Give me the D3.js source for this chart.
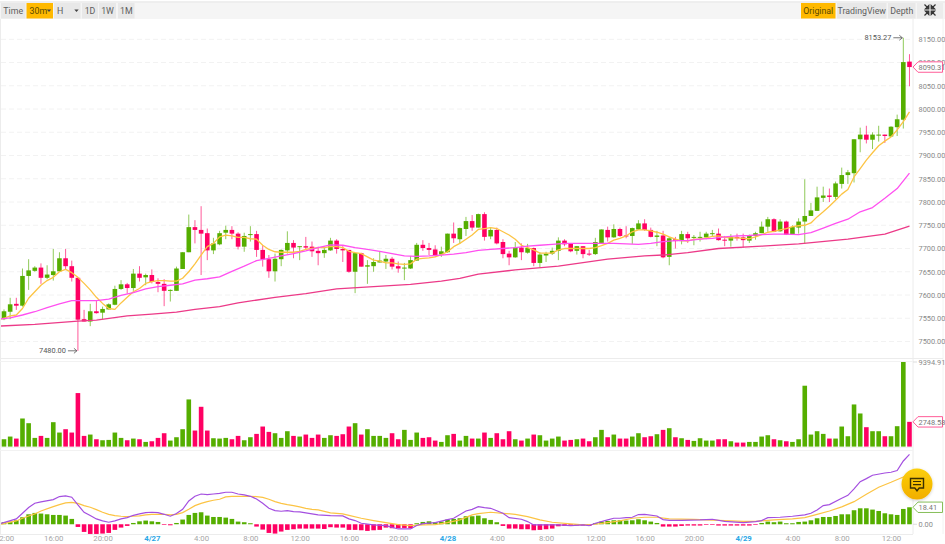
<!DOCTYPE html>
<html>
<head>
<meta charset="utf-8">
<script src="https://cdnjs.cloudflare.com/ajax/libs/d3/7.8.5/d3.min.js"></script>
<style>
  html, body { margin: 0; padding: 0; background: #fff; overflow: hidden; }
  text { font-family: Roboto, "Noto Sans", sans-serif; }
</style>
</head>
<body>
<div id="chart"></div>
<script>
// candles run from index -1 (cut off at the left edge) to 147, 30 minutes each
const opens = [7538,7548,7564,7581,7577,7641,7652,7659,7637,7643,7651,7679,7662,7637,7548,7543,7565,7562,7569,7579,7613,7623,7615,7646,7638,7643,7628,7624,7609,7609,7656,7692,7746,7740,7733,7696,7709,7734,7740,7732,7704,7729,7731,7697,7677,7651,7677,7696,7712,7703,7705,7704,7695,7690,7696,7717,7699,7697,7650,7690,7661,7662,7670,7672,7678,7662,7657,7657,7674,7708,7701,7698,7687,7692,7732,7720,7742,7759,7745,7774,7726,7740,7714,7689,7681,7702,7691,7701,7669,7685,7689,7695,7717,7710,7695,7705,7689,7688,7712,7740,7724,7742,7728,7727,7741,7754,7740,7725,7728,7682,7720,7716,7731,7723,7723,7724,7731,7732,7719,7717,7725,7724,7717,7727,7733,7747,7763,7737,7758,7730,7745,7758,7770,7781,7809,7814,7811,7839,7858,7862,7935,7945,7934,7944,7945,7941,7961,7977,8102];
const highs = [7550,7569,7594,7594,7657,7677,7662,7668,7664,7699,7692,7699,7674,7638,7568,7581,7587,7575,7582,7620,7632,7626,7656,7662,7646,7655,7636,7634,7612,7661,7692,7773,7761,7791,7743,7723,7738,7749,7748,7735,7734,7748,7738,7707,7686,7689,7698,7737,7718,7705,7725,7715,7704,7704,7723,7720,7705,7697,7691,7691,7675,7679,7693,7686,7682,7672,7669,7684,7712,7718,7712,7707,7704,7732,7756,7745,7768,7772,7775,7778,7745,7745,7720,7695,7714,7711,7710,7702,7692,7693,7702,7724,7720,7711,7705,7705,7697,7723,7741,7747,7752,7745,7748,7745,7761,7763,7745,7738,7738,7725,7725,7738,7736,7729,7736,7736,7740,7743,7727,7731,7732,7732,7730,7736,7758,7768,7765,7763,7760,7750,7765,7849,7798,7833,7833,7829,7844,7874,7869,7935,7960,7964,7950,7964,7945,7963,7988,8153.27,8118];
const lows = [7535,7546,7548,7568,7575,7611,7650,7624,7634,7631,7650,7654,7629,7480,7543,7533,7560,7548,7569,7578,7611,7603,7609,7629,7621,7625,7606,7576,7586,7609,7656,7692,7711,7643,7675,7688,7707,7720,7720,7698,7693,7715,7682,7661,7637,7629,7662,7689,7679,7675,7698,7682,7664,7680,7695,7689,7671,7648,7604,7661,7624,7650,7670,7656,7655,7648,7632,7656,7674,7695,7686,7682,7682,7691,7712,7710,7727,7738,7745,7717,7720,7709,7679,7664,7680,7675,7689,7662,7659,7671,7686,7675,7705,7692,7687,7679,7684,7686,7712,7715,7723,7725,7722,7710,7740,7738,7724,7705,7679,7664,7700,7709,7712,7707,7715,7720,7725,7717,7705,7704,7717,7702,7712,7719,7733,7736,7735,7736,7729,7729,7732,7710,7770,7781,7800,7800,7806,7829,7839,7842,7907,7926,7914,7930,7927,7940,7942,7958,8049];
const closes = [7548,7565,7580,7577,7641,7653,7659,7637,7644,7651,7679,7662,7637,7547,7543,7565,7561,7570,7580,7613,7623,7615,7646,7637,7643,7628,7624,7609,7611,7657,7692,7746,7740,7732,7696,7711,7733,7740,7732,7704,7727,7731,7697,7677,7651,7678,7697,7712,7702,7705,7702,7694,7690,7697,7717,7699,7696,7650,7690,7661,7664,7671,7674,7678,7661,7657,7659,7675,7708,7701,7697,7686,7694,7732,7722,7744,7759,7745,7774,7725,7740,7711,7688,7681,7702,7692,7701,7669,7687,7689,7695,7717,7709,7694,7705,7688,7687,7714,7741,7724,7742,7727,7727,7744,7754,7740,7725,7728,7681,7722,7716,7731,7722,7725,7725,7732,7733,7718,7717,7725,7722,7718,7727,7733,7747,7763,7736,7758,7730,7746,7758,7770,7782,7810,7814,7811,7840,7858,7864,7935,7945,7934,7945,7945,7942,7962,7978,8101,8090.31];
const volumes = [669,817,1115,892,3121,2600,966,1189,966,2712,1560,1932,1560,5944,1189,1337,817,706,743,1560,966,706,892,817,520,594,966,1486,669,1040,1932,5238,1783,4421,1783,929,892,966,817,1189,706,1040,1412,2229,1635,1486,966,1709,1189,1115,1337,966,1337,966,1263,1189,1375,2229,2600,1337,1932,1189,1189,966,1486,817,1858,743,1560,966,1040,669,520,1263,1412,669,1189,892,892,1560,966,1486,817,1709,817,669,892,1337,1263,669,892,1115,669,743,817,892,594,1040,1858,1040,1337,892,892,1115,1486,1040,1152,1375,1858,2043,1040,929,743,632,929,669,669,817,817,594,446,446,520,520,1115,1263,817,706,594,520,817,6761,1337,1709,1412,892,892,2229,1152,4681,3678,2155,1709,1709,1152,1152,2266,9394.91,2748.58];
const macdHist = [1.1,2.2,2.9,4.3,7.6,10.8,12.3,11.6,10.8,10.1,10.1,9.4,5.8,-2.9,-8.3,-10.5,-10.5,-10.1,-9.4,-6.1,-3.6,-1.8,1.4,3.2,4,3.2,2.5,-0.7,-1.1,1.4,5.1,10.1,12.3,13,9.4,7.9,7.9,7.2,5.8,2.9,2.2,1.1,-2.5,-5.8,-9.4,-10.1,-7.9,-6.1,-5.4,-4.7,-4.7,-4.7,-4.7,-5.1,-3.2,-3.6,-3.6,-6.1,-6.1,-6.5,-7.2,-6.5,-6.1,-3.6,-4.3,-4.3,-4,-4.3,1.1,2.5,3.2,2.2,2.9,5.1,5.8,6.5,8.7,8.7,9.4,6.5,4.7,2.2,-1.8,-4.7,-4.7,-5.4,-5.4,-6.5,-6.1,-5.4,-4.7,-2.2,-1.8,-1.4,-1.4,-1.4,-1.8,1.1,2.9,3.6,4.3,4.3,4,4.3,5.4,4.3,2.9,1.4,-2.5,-2.5,-2.5,-1.8,-1.4,-1.4,-1.4,-0.7,-0.7,-1.4,-1.4,-1.4,-1.4,-1.4,-1.4,-0.7,1.4,2.9,2.2,2.9,1.1,1.1,2.5,2.9,4.3,6.5,7.9,7.9,9,10.8,10.8,15.2,17.3,17.3,15.9,14.4,11.9,10.8,10.1,16.6,18.41];

// price moving averages
const ma7 = [7547,7550,7555,7557,7571,7593,7607,7621,7631,7638,7650,7655,7648,7638,7625,7611,7595,7582,7571,7569,7583,7595,7607,7614,7625,7629,7631,7631,7630,7630,7636,7650,7667,7686,7704,7711,7725,7729,7727,7724,7724,7721,7720,7707,7698,7693,7692,7692,7692,7694,7698,7700,7702,7702,7704,7704,7702,7694,7691,7689,7682,7675,7673,7669,7669,7667,7666,7667,7677,7679,7680,7682,7687,7693,7704,7711,7720,7729,7741,7743,7745,7743,7736,7729,7720,7707,7702,7697,7690,7690,7690,7697,7700,7700,7700,7700,7700,7702,7706,7711,7718,7722,7727,7736,7740,7740,7738,7735,7731,7725,7720,7717,7716,7720,7720,7723,7726,7727,7724,7723,7723,7722,7721,7725,7730,7735,7737,7740,7743,7747,7749,7750,7755,7768,7779,7791,7804,7817,7827,7854,7872,7890,7906,7921,7931,7940,7955,7973,7994];
// read at every second candle
const ma25 = [7548,7551,7557,7564,7573,7581,7588,7588,7588,7591,7599,7605,7613,7618,7621,7624,7632,7635,7639,7651,7662,7674,7679,7684,7689,7695,7702,7708,7707,7702,7698,7694,7689,7684,7683,7684,7686,7688,7691,7696,7698,7700,7702,7705,7707,7709,7711,7711,7711,7711,7711,7710,7709,7711,7715,7717,7717,7720,7722,7725,7727,7728,7730,7731,7731,7730,7734,7744,7754,7763,7779,7788,7808,7829,7862];
const ma99Index = [-1,5,12,15,20,24,28,31,35,38,44,49,54,60,66,71,74,77,83,90,98,104,107,111,116,123,129,137,143,147];
const ma99 = [7533,7537,7544,7546,7555,7559,7563,7569,7575,7583,7595,7603,7613,7618,7623,7630,7636,7645,7654,7662,7677,7684,7686,7691,7700,7705,7710,7720,7731,7748];

// macd lines, read where they bend
const difIndex = [-1,2,3,4,5,6,8,9,10,11,12,13,14,15,16,17,18,19,20,21,22,23,24,25,26,27,28,29,30,31,32,33,34,35,36,37,38,39,40,41,42,43,44,45,46,47,48,49,50,51,53,55,56,57,58,60,62,64,66,67,68,70,72,73,75,76,77,78,79,81,82,84,85,86,88,90,92,94,95,96,98,99,100,101,102,103,104,106,107,108,110,113,115,117,120,122,123,124,126,128,130,131,132,133,134,136,137,138,139,140,141,143,144,145,146,147];
const dif = [0,5.8,11.9,18.1,22.8,24.2,26.7,30,30.7,29.3,20.9,13,9.4,5.8,3.6,2.2,3.6,5.8,7.2,9.7,11.2,12.6,13,12.6,10.8,8.7,11.6,16.2,25.3,30.3,32.8,32.1,32.8,33.5,34.7,34.7,32.8,31.8,30.3,27.4,22.7,17.3,14.8,14.1,14.8,13.7,13.4,12.3,11.2,10.1,9.4,9,5.8,4,1.1,-0.7,-1.4,-5.1,-5.1,-1.4,0.7,1.8,5.1,6.5,14.4,16.2,19.1,18.1,17.3,11.9,7.2,5.4,2.9,-0.7,-0.7,-0.7,-1.4,-0.7,-1.4,1.1,4.7,6.5,6.5,7.2,7.6,10.5,10.8,9,5.1,4.3,4.3,4.7,5.4,3.2,1.8,2.9,4,7.2,7.6,8.7,10.1,11.9,15.5,20.2,21.3,28.2,31.4,38.3,46.2,49.5,53.1,55.6,56.4,58.2,68.6,75.8];
const deaIndex = [-1,2,3,4,5,6,8,9,10,11,12,13,14,15,16,17,18,19,20,21,22,23,24,26,27,28,29,30,31,32,33,34,35,36,37,40,41,42,43,44,45,46,47,48,49,50,51,53,55,56,58,60,62,64,66,68,70,72,74,76,77,79,81,83,85,87,89,92,94,96,98,100,102,104,106,108,112,117,120,122,125,128,130,132,134,136,138,140,142,144,146,147];
const dea = [-0.7,3.6,6.5,9,11.2,14.4,19.1,21.3,23.1,23.8,22.7,20.2,18.4,15.9,13,10.8,9.4,8.7,8.3,8.7,9,10.1,10.8,10.8,10.1,10.8,12.6,16.2,20.2,22.7,24.5,26,27.1,29.6,30.3,30.3,30,29.2,27.1,24.5,22.7,21.3,20.2,18.8,17.3,16.2,15.5,12.3,11.2,9.7,6.5,4,1.8,-0.4,-1.4,-0.7,-0.4,1.8,4.7,10.1,11.6,13,11.9,10.8,8.3,4.7,2.2,0.4,-0.7,0,1.8,3.6,6.5,7.6,7.6,5.8,5.4,4,3.2,3.2,4.7,5.8,7.2,10.8,14.4,18.8,24.5,32.5,40.1,45.5,51.3,54.9];

const priceTicks = [7500,7550,7600,7650,7700,7750,7800,7850,7900,7950,8000,8050,8100,8150];
const timeTickIndex = [0,8,16,24,32,40,48,56,64,72,80,88,96,104,112,120,128,136,144];
const timeTickLabels = ["12:00","16:00","20:00","4/27","4:00","8:00","12:00","16:00","20:00","4/28","4:00","8:00","12:00","16:00","20:00","4/29","4:00","8:00","12:00"];
const leftButtons = ["Time","30m","H","1D","1W","1M"];
const rightButtons = ["Original","TradingView","Depth"];

const width = 945, height = 544;
const green = "#55ae00", red = "#ff0063";
const plotRight = 913;
const fontStack = 'Roboto, "Noto Sans", sans-serif';
const labelSize = 7.4;

const candleIndex = d3.range(-1, 148);
const ma25Index = d3.range(-1, 148, 2);

const x = d3.scaleLinear().domain([0, 144]).range([4, 891]);
const y = d3.scaleLinear().domain([7500, 8150]).range([341.5, 39.3]);
const yVol = d3.scaleLinear().domain([0, 9394.91]).range([446.6, 362]);
const yMacd = d3.scaleLinear().domain([-11.1, 80.5]).range([534.5, 450]);

const svg = d3.select("#chart").append("svg")
    .attr("width", width).attr("height", height)
    .style("display", "block");

svg.append("defs").append("clipPath").attr("id", "plot")
  .append("rect").attr("x", 1).attr("y", 19).attr("width", plotRight - 1).attr("height", 516);

const grad = svg.select("defs").append("linearGradient").attr("id", "chatFill")
    .attr("x1", 0).attr("y1", 0).attr("x2", 0).attr("y2", 1);
grad.append("stop").attr("offset", "0%").attr("stop-color", "#fccf0a");
grad.append("stop").attr("offset", "100%").attr("stop-color", "#f2ae00");

const shadow = svg.select("defs").append("filter").attr("id", "chatShadow")
    .attr("x", "-30%").attr("y", "-30%").attr("width", "160%").attr("height", "160%");
shadow.append("feDropShadow").attr("dx", 0).attr("dy", 1).attr("stdDeviation", 1.5)
    .attr("flood-color", "#000").attr("flood-opacity", 0.2);

// frame
const frame = svg.append("g").attr("stroke", "#ececec").attr("fill", "none");
frame.append("line").attr("x1", 0).attr("x2", width).attr("y1", 2).attr("y2", 2).attr("stroke", "#dedede");
frame.append("line").attr("x1", 0.5).attr("x2", 0.5).attr("y1", 19).attr("y2", 534);
frame.append("line").attr("x1", plotRight).attr("x2", plotRight).attr("y1", 19).attr("y2", 534);
frame.append("line").attr("x1", 943).attr("x2", 943).attr("y1", 19).attr("y2", 534).attr("stroke", "#f2f2f2");
frame.append("line").attr("x1", 0).attr("x2", 943).attr("y1", 358.5).attr("y2", 358.5).attr("stroke", "#ececec");
frame.append("line").attr("x1", 0).attr("x2", plotRight).attr("y1", 361.5).attr("y2", 361.5).attr("stroke", "#f2f2f2");
frame.append("line").attr("x1", 0).attr("x2", plotRight).attr("y1", 447.5).attr("y2", 447.5).attr("stroke", "#f2f2f2");
frame.append("line").attr("x1", 0).attr("x2", plotRight).attr("y1", 450.5).attr("y2", 450.5).attr("stroke", "#f2f2f2");
frame.append("line").attr("x1", 0).attr("x2", plotRight).attr("y1", 534.5).attr("y2", 534.5).attr("stroke", "#ececec");

// toolbar
const bar = svg.append("g");
bar.append("rect").attr("x", 0).attr("y", 3).attr("width", width).attr("height", 16).attr("fill", "#f5f5f5");

const leftX = [1, 26.5, 54, 82, 99, 118], leftW = [24.5, 26.5, 26.5, 16, 17, 16.5];
leftButtons.forEach((label, i) => {
  bar.append("rect").attr("x", leftX[i]).attr("y", 3).attr("width", leftW[i]).attr("height", 15.5)
      .attr("fill", label == "30m" ? "#ffb900" : "#e8e8e8");
  bar.append("text").attr("x", label == "H" ? 57 : label == "30m" ? 29.5 : leftX[i] + leftW[i] / 2)
      .attr("y", 13.6)
      .attr("text-anchor", label == "H" || label == "30m" ? "start" : "middle")
      .attr("font-size", 8.8)
      .attr("fill", label == "30m" ? "#5a4a00" : "#5e5e5e")
      .text(label);
});
[49, 76.5].forEach(cx => {
  bar.append("path").attr("d", `M${cx - 2.2},9.5h4.4l-2.2,2.5z`).attr("fill", "#444");
});

const rightX = [801, 837, 888], rightW = [34.5, 49.5, 27.5];
rightButtons.forEach((label, i) => {
  bar.append("rect").attr("x", rightX[i]).attr("y", 3).attr("width", rightW[i]).attr("height", 15.5)
      .attr("fill", i == 0 ? "#ffb900" : "#e8e8e8");
  bar.append("text").attr("x", rightX[i] + rightW[i] / 2).attr("y", 13.6)
      .attr("text-anchor", "middle").attr("font-size", 8.8)
      .attr("fill", i == 0 ? "#5a4a00" : "#5e5e5e")
      .text(label);
});
bar.append("rect").attr("x", 917).attr("y", 3).attr("width", 26).attr("height", 15.5).attr("fill", "#ececec");
// fullscreen arrows
bar.append("g").attr("transform", "translate(930,10)").attr("stroke", "#333").attr("stroke-width", 1.2).attr("fill", "#333")
  .selectAll("path").data([0, 90, 180, 270]).join("path")
    .attr("transform", d => `rotate(${d})`)
    .attr("d", "M-5.5,-5.5L-2.5,-2.5M-1.2,-4.6V-1.2H-4.6Z");

// price grid and axis
svg.append("g").selectAll("line").data(priceTicks).join("line")
    .attr("x1", 1).attr("x2", plotRight)
    .attr("y1", d => y(d)).attr("y2", d => y(d))
    .attr("stroke", "#f2f2f2").attr("stroke-dasharray", "5,3");

const priceAxis = svg.append("g").attr("transform", `translate(${plotRight},0)`)
    .call(d3.axisRight(y).tickValues(priceTicks).tickFormat(d3.format(".2f")).tickSize(0).tickPadding(5.5));
priceAxis.select(".domain").remove();
priceAxis.selectAll("text").attr("font-size", labelSize).attr("fill", "#8a8a8a").style("font-family", fontStack);

// candles
const plot = svg.append("g").attr("clip-path", "url(#plot)");
const candleColor = i => closes[i] >= opens[i] ? green : red;
const bodyWidth = 4.6;

plot.append("g").selectAll("line").data(candleIndex).join("line")
    .attr("x1", d => x(d)).attr("x2", d => x(d))
    .attr("y1", (d, i) => y(highs[i])).attr("y2", (d, i) => y(lows[i]))
    .attr("stroke", (d, i) => candleColor(i))
    .attr("stroke-opacity", 0.65)
    .attr("stroke-width", 1);

plot.append("g").selectAll("rect").data(candleIndex).join("rect")
    .attr("x", d => x(d) - bodyWidth / 2)
    .attr("width", bodyWidth)
    .attr("y", (d, i) => y(Math.max(opens[i], closes[i])))
    .attr("height", (d, i) => Math.max(1, Math.abs(y(opens[i]) - y(closes[i]))))
    .attr("fill", (d, i) => candleColor(i));

const priceLine = d3.line().x(d => x(d[0])).y(d => y(d[1]));
const drawPriceLine = (idx, values, color) => {
  plot.append("path")
      .datum(idx.map((d, i) => [d, values[i]]))
      .attr("fill", "none").attr("stroke", color).attr("stroke-width", 1.3)
      .attr("stroke-linejoin", "round").attr("d", priceLine);
};
drawPriceLine(candleIndex, ma7, "#fcc444");
drawPriceLine(ma25Index, ma25, "#ff50f0");
drawPriceLine(ma99Index, ma99, "#ec3a88");

// high / low notes
const note = (i, price) => {
  const tip = x(i) - 1, py = y(price);
  const g = svg.append("g");
  g.append("text").attr("x", tip - 11).attr("y", py + 2.6).attr("text-anchor", "end")
      .attr("font-size", labelSize).attr("fill", "#555").text(d3.format(".2f")(price));
  g.append("path").attr("d", `M${tip - 9},${py}H${tip}M${tip - 3},${py - 2.5}L${tip},${py}L${tip - 3},${py + 2.5}`)
      .attr("fill", "none").attr("stroke", "#555").attr("stroke-width", 0.8);
};
note(146, 8153.27);
note(12, 7480);

// value tag with a pointed left side
const tag = (py, label, color) => {
  const l = plotRight, r = 942.5;
  svg.append("path")
      .attr("d", `M${l},${py}L${l + 5},${py - 5.2}H${r}V${py + 5.2}H${l + 5}Z`)
      .attr("fill", "#fff").attr("stroke", color).attr("stroke-width", 1);
  svg.append("text").attr("x", 918.5).attr("y", py + 2.7)
      .attr("font-size", labelSize).attr("fill", "#777").text(label);
};
tag(y(8090.31), "8090.31", "#ff5c98");

// volume
plot.append("g").selectAll("rect").data(candleIndex).join("rect")
    .attr("x", d => x(d) - bodyWidth / 2)
    .attr("width", bodyWidth)
    .attr("y", (d, i) => yVol(volumes[i]))
    .attr("height", (d, i) => yVol(0) - yVol(volumes[i]))
    .attr("fill", (d, i) => candleColor(i));

svg.append("line").attr("x1", plotRight).attr("x2", plotRight + 4)
    .attr("y1", yVol(9394.91)).attr("y2", yVol(9394.91)).attr("stroke", "#ddd");
svg.append("text").attr("x", 918.5).attr("y", yVol(9394.91) + 2.7)
    .attr("font-size", labelSize).attr("fill", "#8a8a8a").text("9394.91");
tag(yVol(2748.58), "2748.58", "#ff5c98");

// macd
plot.append("g").selectAll("rect").data(candleIndex).join("rect")
    .attr("x", d => x(d) - bodyWidth / 2)
    .attr("width", bodyWidth)
    .attr("y", (d, i) => Math.min(yMacd(macdHist[i]), yMacd(0)))
    .attr("height", (d, i) => Math.abs(yMacd(macdHist[i]) - yMacd(0)))
    .attr("fill", (d, i) => macdHist[i] >= 0 ? green : red);

const macdLine = d3.line().x(d => x(d[0])).y(d => yMacd(d[1]));
plot.append("path").datum(deaIndex.map((d, i) => [d, dea[i]]))
    .attr("fill", "none").attr("stroke", "#fcc444").attr("stroke-width", 1.2).attr("d", macdLine);
plot.append("path").datum(difIndex.map((d, i) => [d, dif[i]]))
    .attr("fill", "none").attr("stroke", "#a44fe0").attr("stroke-width", 1.2).attr("d", macdLine);

svg.append("line").attr("x1", plotRight).attr("x2", plotRight + 4)
    .attr("y1", yMacd(0)).attr("y2", yMacd(0)).attr("stroke", "#ddd");
svg.append("text").attr("x", 918.5).attr("y", yMacd(0) + 2.7)
    .attr("font-size", labelSize).attr("fill", "#8a8a8a").text("0.00");
tag(yMacd(18.41), "18.41", "#86bf5a");

// time axis
const timeAxis = svg.append("g").attr("transform", "translate(0,534)")
    .call(d3.axisBottom(x).tickValues(timeTickIndex).tickFormat((d, i) => timeTickLabels[i]).tickSize(0).tickPadding(1));
timeAxis.select(".domain").remove();
timeAxis.selectAll("text")
    .attr("font-size", 7.8)
    .style("font-family", fontStack)
    .attr("fill", (d, i) => timeTickLabels[i].includes("/") ? "#2aa7e6" : "#a6a6a6")
    .attr("font-weight", (d, i) => timeTickLabels[i].includes("/") ? 700 : 400);

// chat button
const chat = svg.append("g").attr("transform", "translate(917,484)");
chat.append("circle").attr("r", 15.5).attr("fill", "url(#chatFill)").attr("filter", "url(#chatShadow)");
chat.append("path").attr("d", "M-6.5,-5.5H6.5V4H2.2L0,6.8L-2.2,4H-6.5Z")
    .attr("fill", "none").attr("stroke", "#3a3000").attr("stroke-width", 1.4);
chat.append("path").attr("d", "M-4,-2.5H4M-4,0.6H4").attr("stroke", "#3a3000").attr("stroke-width", 1.2);
</script>
</body>
</html>
